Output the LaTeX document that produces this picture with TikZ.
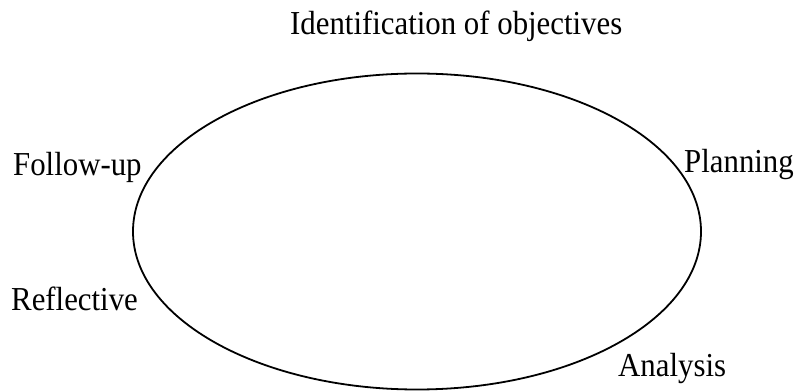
\documentclass[tikz,border=0pt]{standalone}
\usepackage{fontspec}
\setmainfont{Liberation Serif}[FakeStretch=0.92]
\usepackage{tikz}
\usetikzlibrary{positioning}

\tikzset{
    stage/.style={inner sep=0pt, anchor=base west, font=\fontsize{33.5}{38}\selectfont},
}

\begin{document}
\begin{tikzpicture}[x=1pt, y=1pt]
    \useasboundingbox (0,0) rectangle (801,391);

    \draw[line width=1.8pt] (417,159.5) ellipse [x radius=284, y radius=158];

    \node[stage] (objectives) at (290,356) {Identification of objectives};
    \node[stage] (followup) at (13,215) {Follow-up};
    \node[stage] (planning) at (684,218) {Planning};
    \node[stage] (reflective) at (11,80) {Reflective};
    \node[stage] (analysis) at (618,14) {Analysis};
\end{tikzpicture}
\end{document}
